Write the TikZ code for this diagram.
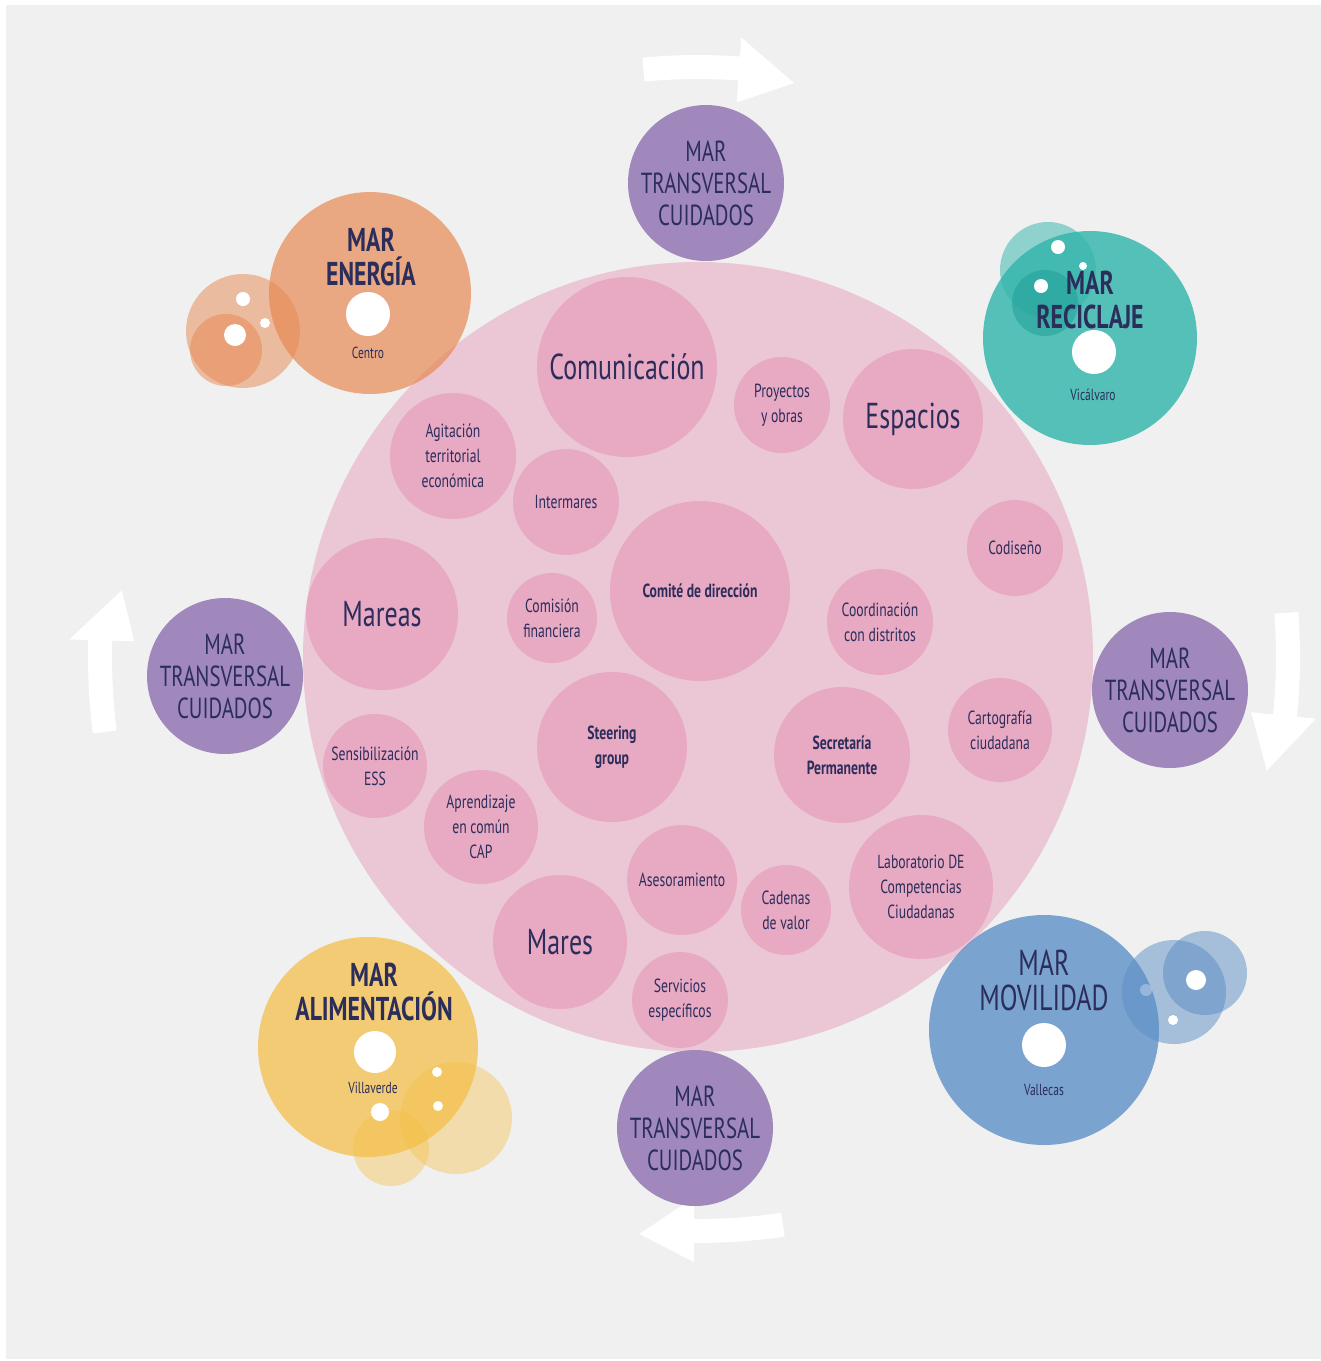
\documentclass[tikz,border=0pt]{standalone}
\usepackage{fontspec}
\setmainfont{PT Sans}[FakeStretch=0.72]
\definecolor{bggrey}{HTML}{F0F0F0}
\definecolor{corepink}{HTML}{EBC7D5}
\definecolor{cellpink}{HTML}{E8A9C3}
\definecolor{purp}{HTML}{A088BC}
\definecolor{navy}{HTML}{2B2D5B}
\definecolor{orng}{HTML}{E8874F}
\definecolor{teal}{HTML}{2FB5AB}
\definecolor{tealdk}{HTML}{1E9E96}
\definecolor{blu}{HTML}{5B8EC6}
\definecolor{yel}{HTML}{F5BE45}
\newcommand\fbig{\fontsize{36}{40}\selectfont}
\newcommand\fsml{\fontsize{19}{25}\selectfont}
\newcommand\fmar{\fontsize{29}{32}\selectfont}
\newcommand\fthm{\fontsize{33}{34}\selectfont}
\newcommand\fthmr{\fontsize{36}{35}\selectfont}
\newcommand\fdst{\fontsize{16}{16}\selectfont}
\newcommand\cirarrow[8]{%
  \fill[white] plot[domain=#6:#7,samples=20] (\x:#1) -- (#7:#3) -- (#8:#5) -- (#7:#4)
    -- plot[domain=#7:#6,samples=20] (\x:#2) -- cycle;}
\begin{document}
\begin{tikzpicture}[x=1pt,y=-1pt,
  cell/.style={circle,fill=cellpink,inner sep=0pt,text=navy,align=center},
  bigtxt/.style={cell,font=\fbig},
  smltxt/.style={cell,font=\fsml},
  boldtxt/.style={cell,font=\fsml\bfseries},
  marc/.style={circle,fill=purp,inner sep=0pt,minimum size=156pt,text=navy,align=center,font=\fmar},
  disc/.style={circle,inner sep=0pt,draw=none},
  dot/.style={circle,fill=white,inner sep=0pt},
  thm/.style={text=navy,align=center,font=\fthm\bfseries,inner sep=0pt},
  thmr/.style={text=navy,align=center,font=\fthmr,inner sep=0pt},
  dst/.style={text=navy,font=\fdst,inner sep=0pt}]
\useasboundingbox (0,0) rectangle (1321,1361);
\fill[white] (0,0) rectangle (1321,1361);
\fill[bggrey] (6,5) rectangle (1321,1359);
% circular arrows
\begin{scope}[shift={(698,657)}]
\cirarrow{578}{602}{556}{621}{582}{-95.3}{-86}{-80.5}
\cirarrow{578}{602}{556}{621}{580}{-4.3}{5.7}{11.3}
\cirarrow{562}{586}{540}{605}{580}{81.5}{90.4}{95.8}
\cirarrow{586}{610}{564}{629}{580}{172.8}{181.6}{186.6}
\end{scope}
% core
\node[disc,fill=corepink,minimum size=790pt] (core) at (698,657) {};
% cells
\node[bigtxt,minimum size=180pt] (comunicacion) at (627,367) {Comunicación};
\node[smltxt,minimum size=96pt] (proyectos) at (782,405) {Proyectos\\y obras};
\node[bigtxt,minimum size=140pt] (espacios) at (913,419) {Espacios};
\node[smltxt,minimum size=126pt] (agitacion) at (453,456) {Agitación\\territorial\\económica};
\node[smltxt,minimum size=106pt] (intermares) at (566,502) {Intermares};
\node[boldtxt,minimum size=180pt] (comite) at (700,591) {Comité de dirección};
\node[bigtxt,minimum size=152pt] (mareas) at (382,614) {Mareas};
\node[smltxt,minimum size=90pt] (comision) at (552,618) {Comisión\\financiera};
\node[smltxt,minimum size=106pt] (coordinacion) at (880,622) {Coordinación\\con distritos};
\node[smltxt,minimum size=96pt] (codiseno) at (1015,548) {Codiseño};
\node[boldtxt,minimum size=150pt] (steering) at (612,747) {Steering\\group};
\node[boldtxt,minimum size=136pt] (secretaria) at (842,755) {Secretaría\\Permanente};
\node[smltxt,minimum size=104pt] (cartografia) at (1000,730) {Cartografía\\ciudadana};
\node[smltxt,minimum size=104pt] (sensibilizacion) at (375,766) {Sensibilización\\ESS};
\node[smltxt,minimum size=114pt] (aprendizaje) at (481,827) {Aprendizaje\\en común\\CAP};
\node[smltxt,minimum size=110pt] (asesoramiento) at (682,880) {Asesoramiento};
\node[smltxt,minimum size=90pt] (cadenas) at (786,910) {Cadenas\\de valor};
\node[smltxt,minimum size=144pt] (laboratorio) at (921,887) {Laboratorio DE\\Competencias\\Ciudadanas};
\node[bigtxt,minimum size=134pt] (mares) at (560,942) {Mares};
\node[smltxt,minimum size=96pt] (servicios) at (680,1000) {Servicios\\específicos};
% transversal
\node[marc] (mtop) at (706,183) {MAR\\TRANSVERSAL\\CUIDADOS};
\node[marc] (mleft) at (225,676) {MAR\\TRANSVERSAL\\CUIDADOS};
\node[marc] (mright) at (1170,690) {MAR\\TRANSVERSAL\\CUIDADOS};
\node[marc] (mbottom) at (695,1128) {MAR\\TRANSVERSAL\\CUIDADOS};
% energia
\node[disc,fill=orng,fill opacity=.5,minimum size=114pt] (eb1) at (243,331) {};
\node[disc,fill=orng,fill opacity=.5,minimum size=72pt] (eb2) at (226,350) {};
\node[disc,fill=orng,fill opacity=.68,minimum size=202pt] (energia) at (370,293) {};
\node[dot,minimum size=14pt] (ed1) at (243,299) {};
\node[dot,minimum size=22pt] (ed2) at (235,335) {};
\node[dot,minimum size=10pt] (ed3) at (265,323) {};
\node[dot,minimum size=44pt] (ed0) at (368,314) {};
\node[thm] (energiat) at (371,257) {MAR\\ENERGÍA};
\node[dst] (centro) at (368,353) {Centro};
% reciclaje
\node[disc,fill=teal,fill opacity=.5,minimum size=96pt] (rb1) at (1048,270) {};
\node[disc,fill=teal,fill opacity=.8,minimum size=214pt] (reciclaje) at (1090,338) {};
\node[disc,fill=tealdk,fill opacity=.5,minimum size=66pt] (rb2) at (1045,303) {};
\node[dot,minimum size=14pt] (rd1) at (1058,247) {};
\node[dot,minimum size=14pt] (rd2) at (1041,286) {};
\node[dot,minimum size=8pt] (rd3) at (1083,266) {};
\node[dot,minimum size=44pt] (rd0) at (1094,352) {};
\node[thm] (reciclajet) at (1090,300) {MAR\\RECICLAJE};
\node[dst] (vicalvaro) at (1093,395) {Vicálvaro};
% movilidad
\node[disc,fill=blu,fill opacity=.5,minimum size=104pt] (mb1) at (1174,992) {};
\node[disc,fill=blu,fill opacity=.5,minimum size=84pt] (mb2) at (1205,973) {};
\node[disc,fill=blu,fill opacity=.78,minimum size=230pt] (movilidad) at (1044,1030) {};
\node[dot,minimum size=20pt] (md1) at (1196,980) {};
\node[dot,minimum size=10pt] (md2) at (1173,1020) {};
\node[dot,fill opacity=.3,minimum size=12pt] (md3) at (1146,990) {};
\node[dot,minimum size=44pt] (md0) at (1044,1045) {};
\node[thmr] (movilidadt) at (1044,980) {MAR\\MOVILIDAD};
\node[dst] (vallecas) at (1044,1090) {Vallecas};
% alimentacion
\node[disc,fill=yel,fill opacity=.4,minimum size=112pt] (ab1) at (456,1118) {};
\node[disc,fill=yel,fill opacity=.4,minimum size=76pt] (ab2) at (391,1148) {};
\node[disc,fill=yel,fill opacity=.72,minimum size=220pt] (alimentacion) at (368,1047) {};
\node[dot,minimum size=10pt] (ad1) at (437,1072) {};
\node[dot,minimum size=10pt] (ad2) at (438,1106) {};
\node[dot,minimum size=18pt] (ad3) at (380,1112) {};
\node[dot,minimum size=42pt] (ad0) at (375,1052) {};
\node[thm] (alimentaciont) at (374,992) {MAR\\ALIMENTACIÓN};
\node[dst] (villaverde) at (373,1088) {Villaverde};
\end{tikzpicture}
\end{document}
